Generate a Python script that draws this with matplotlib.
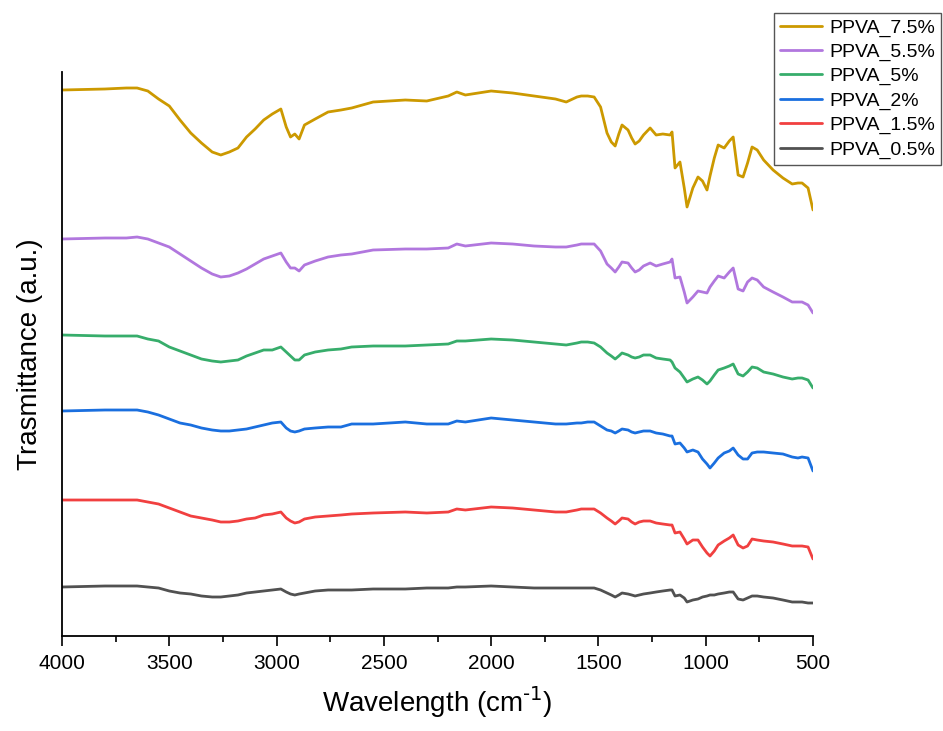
import numpy as np
import matplotlib.pyplot as plt
from matplotlib.ticker import MultipleLocator

plt.rcParams['font.family'] = ['Liberation Sans', 'DejaVu Sans']

# Wavenumber grid (cm-1) shared by all spectra
wavenumber = [4000, 3800, 3700, 3650, 3600, 3550, 3500, 3450, 3400, 3350,
              3300, 3260, 3220, 3180, 3140, 3100, 3060, 3020, 2980, 2955,
              2935, 2915, 2895, 2870, 2820, 2760, 2700, 2650, 2550, 2400,
              2300, 2200, 2160, 2120, 2000, 1900, 1800, 1700, 1650, 1600,
              1580, 1550, 1520, 1490, 1460, 1440, 1422, 1405, 1390, 1362,
              1345, 1329, 1310, 1290, 1259, 1231, 1200, 1166, 1157, 1143,
              1120, 1100, 1087, 1060, 1036, 1015, 994, 980, 960, 942,
              914, 890, 872, 849, 826, 805, 784, 760, 730, 686,
              640, 597, 570, 551, 523, 500]

# Transmittance (a.u., stacked)
ppva_7_5 = [546, 547, 548, 548, 545, 537, 530, 516, 503, 493,
            484, 481, 484, 488, 499, 507, 516, 522, 527, 509,
            499, 502, 497, 511, 517, 524, 526, 528, 534, 536,
            535, 540, 544, 541, 545, 543, 540, 537, 534, 539,
            540, 540, 539, 529, 503, 494, 490, 502, 511, 506,
            498, 492, 495, 501, 508, 501, 502, 501, 504, 468,
            474, 448, 429, 448, 459, 455, 446, 460, 478, 491,
            488, 495, 499, 461, 459, 473, 489, 486, 476, 466,
            458, 452, 453, 453, 448, 426]
ppva_5_5 = [397, 398, 398, 399, 397, 393, 389, 382, 375, 368,
            362, 359, 360, 363, 367, 372, 377, 380, 383, 374,
            368, 368, 365, 371, 375, 379, 381, 382, 386, 387,
            387, 388, 392, 390, 393, 392, 390, 389, 389, 391,
            392, 392, 392, 385, 372, 368, 364, 369, 374, 373,
            368, 364, 366, 370, 373, 370, 372, 374, 377, 358,
            359, 344, 333, 339, 345, 344, 343, 349, 355, 360,
            358, 364, 368, 347, 345, 354, 358, 356, 349, 344,
            339, 334, 334, 334, 331, 323]
ppva_5 = [301, 300, 300, 300, 297, 295, 289, 285, 281, 277,
          275, 274, 275, 276, 280, 283, 286, 286, 289, 284,
          280, 276, 276, 281, 284, 286, 287, 289, 290, 290,
          291, 292, 295, 295, 297, 296, 294, 292, 291, 293,
          294, 294, 293, 289, 283, 280, 277, 280, 283, 281,
          279, 278, 279, 281, 281, 278, 277, 276, 274, 268,
          264, 258, 254, 257, 259, 256, 252, 255, 261, 266,
          268, 270, 272, 262, 260, 264, 269, 268, 264, 262,
          259, 257, 258, 258, 256, 248]
ppva_2 = [225, 226, 226, 226, 224, 221, 217, 213, 211, 208,
          206, 205, 205, 206, 207, 209, 211, 213, 214, 208,
          205, 204, 205, 207, 208, 209, 209, 212, 212, 214,
          212, 212, 215, 214, 218, 216, 214, 212, 212, 213,
          213, 214, 214, 210, 206, 205, 203, 205, 207, 206,
          204, 203, 204, 205, 205, 203, 202, 200, 200, 192,
          193, 188, 184, 186, 184, 177, 172, 168, 173, 178,
          183, 185, 188, 181, 177, 177, 183, 184, 184, 183,
          182, 179, 178, 179, 178, 165]
ppva_1_5 = [136, 136, 136, 136, 134, 132, 128, 124, 120, 118,
            116, 114, 114, 115, 117, 118, 121, 122, 124, 118,
            115, 113, 114, 117, 119, 120, 121, 122, 123, 124,
            123, 124, 127, 126, 129, 128, 126, 124, 124, 126,
            127, 127, 127, 123, 118, 115, 112, 115, 118, 117,
            114, 112, 114, 115, 115, 113, 112, 111, 111, 103,
            104, 97, 92, 96, 96, 89, 83, 80, 85, 91,
            95, 98, 101, 91, 88, 90, 97, 96, 95, 94,
            92, 90, 90, 90, 89, 77]
ppva_0_5 = [49, 50, 50, 50, 49, 48, 45, 43, 42, 40,
            39, 39, 40, 41, 43, 44, 45, 46, 47, 44,
            42, 41, 42, 43, 45, 46, 46, 46, 47, 47,
            48, 48, 49, 49, 50, 49, 48, 48, 48, 48,
            48, 48, 48, 46, 43, 41, 39, 41, 43, 42,
            41, 40, 41, 42, 43, 44, 45, 46, 46, 40,
            41, 38, 34, 36, 37, 39, 40, 41, 41, 42,
            43, 44, 44, 37, 36, 38, 40, 40, 39, 38,
            36, 34, 34, 34, 33, 33]

labels = ['PPVA_7.5%', 'PPVA_5.5%', 'PPVA_5%', 'PPVA_2%', 'PPVA_1.5%', 'PPVA_0.5%']
colors = ['#CC9900', '#B177DE', '#37AD6B', '#1A6FDF', '#F14040', '#515151']
series = [ppva_7_5, ppva_5_5, ppva_5, ppva_2, ppva_1_5, ppva_0_5]

fig = plt.figure(figsize=(9.43, 7.31), dpi=100)
ax = fig.add_axes([62/943, 95/731, 751/943, 564/731])

for y, lab, c in zip(series, labels, colors):
    ax.plot(wavenumber, y, color=c, lw=2, label=lab,
            solid_joinstyle='round', solid_capstyle='round')

ax.set_xlim(4000, 500)
ax.set_ylim(0, 564)
ax.xaxis.set_major_locator(MultipleLocator(500))
ax.xaxis.set_minor_locator(MultipleLocator(250))
ax.tick_params(axis='x', which='major', direction='out', length=7, width=1.2, labelsize=15, pad=6)
ax.tick_params(axis='x', which='minor', direction='out', length=4, width=1.2)
ax.set_yticks([])
for s in ['top', 'right']:
    ax.spines[s].set_visible(False)
for s in ['left', 'bottom']:
    ax.spines[s].set_linewidth(1.3)

ax.set_xlabel('Wavelength (cm$^{\\text{-1}}$)', fontsize=20, labelpad=8)
ax.set_ylabel('Trasmittance (a.u.)', fontsize=20, labelpad=14)

fig.legend(loc='upper right', bbox_to_anchor=(941/943, 718/731), fontsize=14,
           frameon=True, fancybox=False, edgecolor='#555555', framealpha=1,
           handlelength=2.2, handletextpad=0.35, labelspacing=0.34,
           borderpad=0.3, borderaxespad=0)

fig.savefig('out.png', dpi=100)
